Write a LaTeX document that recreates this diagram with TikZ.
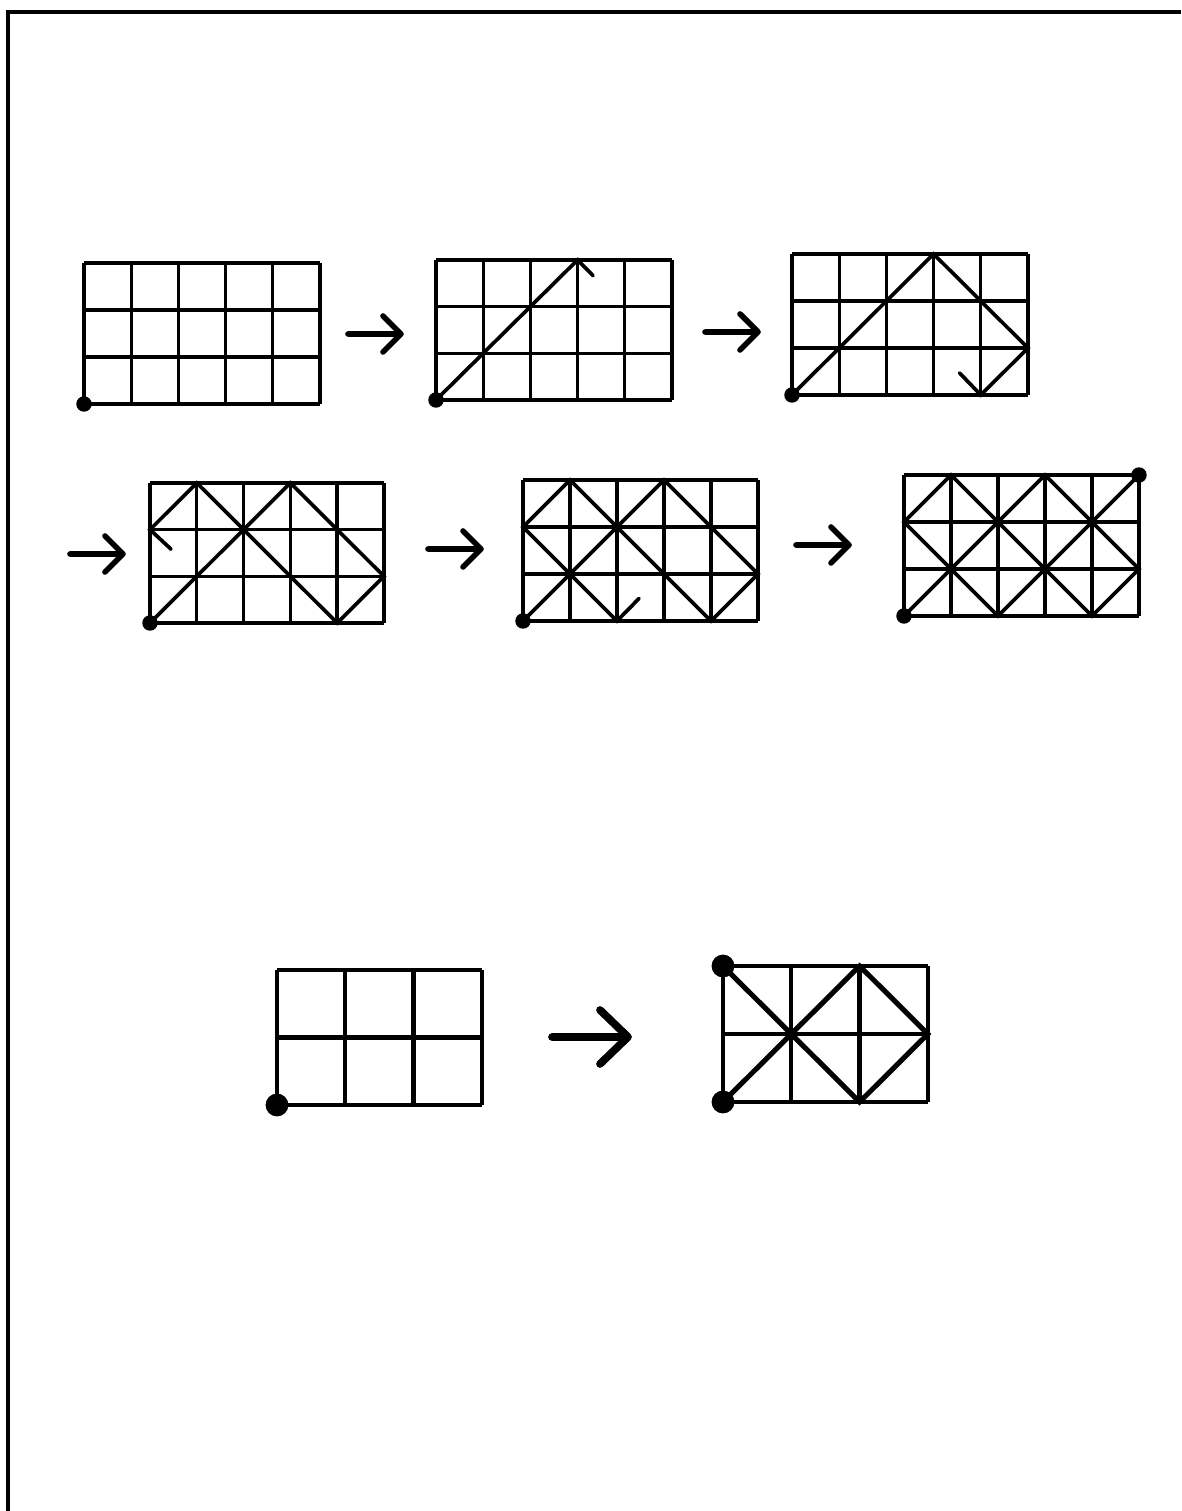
\documentclass[tikz,border=0pt]{standalone}
\usepackage{tikz}

\begin{document}
\begin{tikzpicture}[x=0.02cm,y=0.02cm,
  gridline/.style={line width=1.9pt},
  bounce/.style={line width=2.1pt,line cap=round},
  arr/.style={line width=3.2pt,line cap=round,line join=round}]
  \useasboundingbox (0,0) rectangle (1181,1511);
  \draw[line width=2.3pt] (8,0) -- (8,1499) -- (1181,1499);

  \begin{scope}[shift={(84,1107)},x=0.944cm,y=0.94cm]
    \draw[gridline] (0,0) grid[step=1] (5,3);
    \fill (0,0) circle (4.4pt);
  \end{scope}
  \begin{scope}[shift={(436,1111)},x=0.944cm,y=0.934cm]
    \draw[gridline] (0,0) grid[step=1] (5,3);
    \draw[bounce] (0,0) -- (3,3) -- (3.33,2.66);
    \fill (0,0) circle (4.4pt);
  \end{scope}
  \begin{scope}[shift={(792,1116)},x=0.944cm,y=0.94cm]
    \draw[gridline] (0,0) grid[step=1] (5,3);
    \draw[bounce] (0,0) -- (3,3) -- (5,1) -- (4,0) -- (3.55,0.47);
    \fill (0,0) circle (4.4pt);
  \end{scope}
  \begin{scope}[shift={(150,888)},x=0.936cm,y=0.934cm]
    \draw[gridline] (0,0) grid[step=1] (5,3);
    \draw[bounce] (0,0) -- (3,3) -- (5,1) -- (4,0) -- (1,3) -- (0,2) -- (0.45,1.58);
    \fill (0,0) circle (4.4pt);
  \end{scope}
  \begin{scope}[shift={(523,890)},x=0.94cm,y=0.94cm]
    \draw[gridline] (0,0) grid[step=1] (5,3);
    \draw[bounce] (0,0) -- (3,3) -- (5,1) -- (4,0) -- (1,3) -- (0,2) -- (2,0) -- (2.47,0.48);
    \fill (0,0) circle (4.4pt);
  \end{scope}
  \begin{scope}[shift={(904,895)},x=0.94cm,y=0.94cm]
    \draw[gridline] (0,0) grid[step=1] (5,3);
    \draw[bounce] (0,0) -- (3,3) -- (5,1) -- (4,0) -- (1,3) -- (0,2) -- (2,0) -- (5,3);
    \fill (0,0) circle (4.4pt);
    \fill (5,3) circle (4.4pt);
  \end{scope}

  \foreach \x/\y in {348/1177,705/1179,70/957,428/962,796/966}
    \draw[arr] (\x,\y) -- ++(53,0) ++(-18,18) -- ++(18,-18) -- ++(-18,-18);

  \begin{scope}[shift={(277,406)},x=1.366cm,y=1.35cm]
    \draw[line width=2.4pt] (0,0) grid[step=1] (3,2);
    \fill (0,0) circle (6.5pt);
  \end{scope}
  \draw[arr,line width=4.4pt] (552,474) -- (628,474) (600,501) -- (628,474) -- (600,447);
  \begin{scope}[shift={(723,409)},x=1.366cm,y=1.36cm]
    \draw[line width=2.4pt] (0,0) grid[step=1] (3,2);
    \draw[line width=2.9pt] (0,2) -- (2,0) -- (3,1) -- (2,2) -- (0,0);
    \fill (0,0) circle (6.5pt);
    \fill (0,2) circle (6.5pt);
  \end{scope}
\end{tikzpicture}
\end{document}
